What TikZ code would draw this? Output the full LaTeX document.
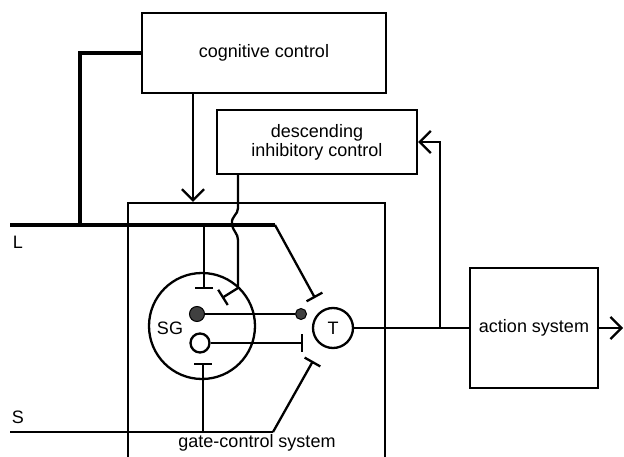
\documentclass[tikz,border=0pt]{standalone}
\usepackage{fontspec}
\setmainfont{Liberation Sans}
\usetikzlibrary{arrows.meta}
\begin{document}
\begin{tikzpicture}[x=1pt,y=-1pt,line width=2.3pt,
  lbl/.style={font=\fontsize{18}{19}\selectfont, inner sep=0pt},
  box/.style={draw, rectangle, line width=2.3pt, inner sep=0pt, align=center, font=\fontsize{18}{19}\selectfont},
  ring/.style={draw, circle, line width=2.3pt, inner sep=0pt},
  thk/.style={line width=4pt},
  inh/.style={-{Bar[width=18pt,line width=2.3pt]}},
  chev/.style={-{Straight Barb[length=11pt,width=22pt,line width=2.3pt]}}
]
\useasboundingbox (0,0) rectangle (624,457);
\clip (0,0) rectangle (624,457);
% boxes
\node[box, minimum width=244pt, minimum height=80pt] (cog) at (264,53) {cognitive control};
\node[box, minimum width=200pt, minimum height=64pt] (desc) at (317,142) {descending\\inhibitory control};
\node[box, minimum width=128pt, minimum height=120pt] (act) at (534,328) {action system};
\node[draw, rectangle, line width=2.3pt, minimum width=257pt, minimum height=290pt, inner sep=0pt] (gate) at (256.5,348) {};
\node[lbl] (gatelbl) at (257,443) {gate-control system};
% circles
\node[ring, minimum size=106pt] (SG) at (202,326) {};
\node[lbl] (SGl) at (170,328) {SG};
\node[ring, minimum size=40pt, font=\fontsize{18}{19}\selectfont] (T) at (333,328) {T};
\node[circle, fill=black!75, draw=black, line width=1pt, minimum size=15pt, inner sep=0pt] (exc) at (197,314) {};
\node[ring, minimum size=19pt] (inb) at (200,343) {};
\node[circle, fill=black!75, draw=black, line width=1pt, minimum size=11pt, inner sep=0pt] (dot) at (301,314) {};
% labels
\node[lbl] (Llbl) at (18,242) {L};
\node[lbl] (Slbl) at (18,417) {S};
% coordinates
\coordinate (Lstart) at (10,225);
\coordinate (Lj) at (80,225);
\coordinate (Lbend) at (275,225);
\coordinate (Lsg) at (204,225);
\coordinate (barLsg) at (204,289);
\coordinate (barT1) at (315,298);
\coordinate (barT2) at (303,343);
\coordinate (barT3) at (313,361);
\coordinate (Sstart) at (10,432);
\coordinate (Sbend) at (273,432);
\coordinate (Ssg) at (203,432);
\coordinate (barSsg) at (203,363);
\coordinate (cx) at (193,0);
\coordinate (dx) at (238,0);
\coordinate (d1) at (238,208);
\coordinate (d2) at (238,240);
\coordinate (d3) at (238,288);
\coordinate (barD) at (222,298);
\coordinate (fb) at (440,328);
\coordinate (out) at (623,328);
% L fibres
\draw[thk] (cog.west) -- (Lj |- cog.west) -- (Lj);
\draw[thk] (Lstart) -- (Lbend);
\draw[inh] (Lbend) -- (barT1);
\draw[inh] (Lsg) -- (barLsg);
% S fibres
\draw (Sstart) -- (Sbend);
\draw[inh] (Sbend) -- (barT3);
\draw[inh] (Ssg) -- (barSsg);
% cognitive control arrow
\draw[chev] (cog.south -| cx) -- (gate.north -| cx);
% descending inhibitory control
\draw (desc.south -| dx) -- (d1) .. controls (238,215) and (231,216) .. (232,224) .. controls (233,232) and (238,233) .. (d2) -- (d3);
\draw[inh] (d3) -- (barD);
% SG to T
\draw (exc) -- (dot);
\draw[inh] (inb) -- (barT2);
% output
\draw (T) -- (act);
\draw[chev] (fb) |- (desc.east);
\draw[chev] (act.east) -- (out);
\end{tikzpicture}
\end{document}
